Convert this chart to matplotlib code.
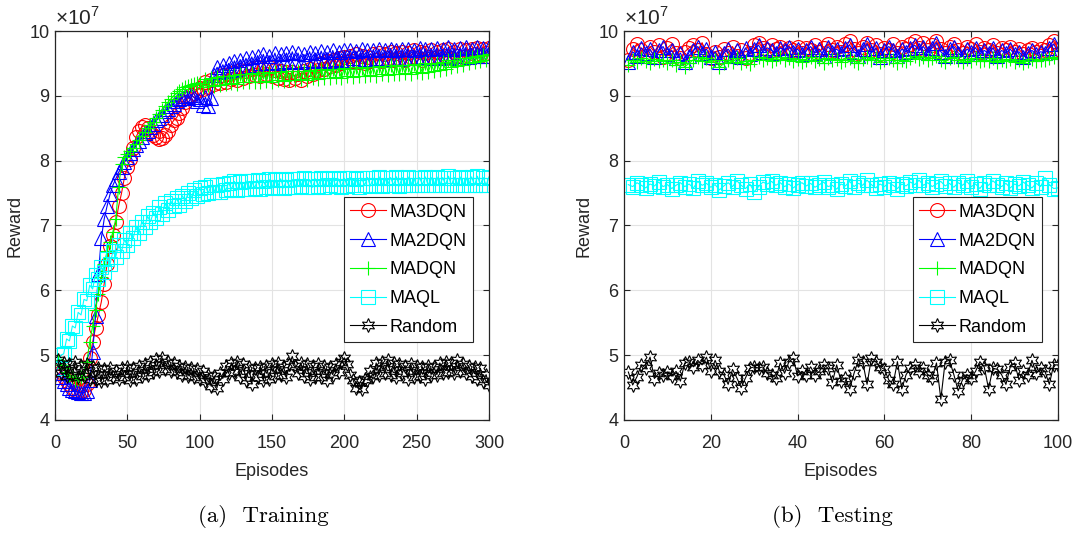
import numpy as np
import matplotlib
matplotlib.use("Agg")
import matplotlib.pyplot as plt

plt.rcParams['font.family'] = ['Liberation Sans', 'DejaVu Sans']
plt.rcParams['mathtext.fontset'] = 'custom'
plt.rcParams['mathtext.rm'] = 'Liberation Sans'

# ---- data (reward in units of 1e7) ----
labels = ['MA3DQN', 'MA2DQN', 'MADQN', 'MAQL', 'Random']

ep_train = np.arange(2, 301, 2)
ep_test = np.arange(1, 101)

train_ma3dqn = [
    4.80, 4.74, 4.66, 4.60, 4.55, 4.50, 4.47, 4.45, 4.44, 4.46,
    4.55, 4.95, 5.20, 5.42, 5.62, 5.82, 6.10, 6.40, 6.68, 6.85,
    7.05, 7.30, 7.50, 7.74, 7.90, 8.02, 8.20, 8.36, 8.46, 8.52,
    8.55, 8.50, 8.44, 8.40, 8.36, 8.34, 8.35, 8.40, 8.46, 8.55,
    8.62, 8.66, 8.74, 8.82, 8.90, 8.96, 9.02, 9.05, 9.08, 9.12,
    9.10, 9.22, 9.14, 9.25, 9.18, 9.28, 9.20, 9.32, 9.22, 9.34,
    9.26, 9.36, 9.24, 9.40, 9.28, 9.38, 9.30, 9.42, 9.32, 9.44,
    9.30, 9.42, 9.34, 9.44, 9.30, 9.40, 9.28, 9.38, 9.26, 9.36,
    9.24, 9.36, 9.28, 9.34, 9.25, 9.38, 9.30, 9.42, 9.34, 9.46,
    9.40, 9.50, 9.42, 9.54, 9.46, 9.56, 9.48, 9.58, 9.50, 9.60,
    9.52, 9.62, 9.54, 9.64, 9.52, 9.62, 9.50, 9.60, 9.54, 9.64,
    9.56, 9.66, 9.54, 9.64, 9.58, 9.68, 9.56, 9.66, 9.58, 9.68,
    9.56, 9.66, 9.60, 9.70, 9.58, 9.68, 9.56, 9.66, 9.60, 9.70,
    9.58, 9.68, 9.60, 9.70, 9.62, 9.72, 9.58, 9.68, 9.62, 9.72,
    9.60, 9.70, 9.62, 9.72, 9.64, 9.74, 9.62, 9.72, 9.66, 9.74,
]
train_ma2dqn = [
    4.72, 4.66, 4.60, 4.55, 4.50, 4.47, 4.45, 4.43, 4.42, 4.42,
    4.45, 4.62, 5.05, 5.60, 6.25, 6.80, 7.10, 7.30, 7.48, 7.62,
    7.72, 7.82, 7.90, 7.98, 8.05, 8.12, 8.18, 8.24, 8.30, 8.36,
    8.42, 8.46, 8.52, 8.56, 8.62, 8.66, 8.70, 8.76, 8.80, 8.85,
    8.88, 8.92, 8.95, 8.97, 9.00, 8.96, 9.02, 8.98, 8.92, 8.95,
    8.86, 8.98, 8.84, 8.96, 9.32, 9.44, 9.36, 9.48, 9.38, 9.50,
    9.40, 9.54, 9.42, 9.56, 9.44, 9.58, 9.46, 9.60, 9.48, 9.62,
    9.50, 9.64, 9.50, 9.62, 9.52, 9.66, 9.50, 9.64, 9.54, 9.66,
    9.52, 9.68, 9.54, 9.66, 9.52, 9.64, 9.56, 9.68, 9.54, 9.66,
    9.55, 9.69, 9.56, 9.67, 9.54, 9.70, 9.57, 9.68, 9.55, 9.70,
    9.56, 9.71, 9.58, 9.69, 9.56, 9.72, 9.57, 9.70, 9.56, 9.71,
    9.58, 9.72, 9.57, 9.70, 9.59, 9.73, 9.58, 9.71, 9.57, 9.72,
    9.59, 9.73, 9.58, 9.71, 9.60, 9.74, 9.59, 9.72, 9.58, 9.73,
    9.60, 9.74, 9.59, 9.72, 9.61, 9.75, 9.60, 9.73, 9.59, 9.74,
    9.61, 9.75, 9.60, 9.73, 9.62, 9.76, 9.61, 9.74, 9.62, 9.75,
]
train_madqn = [
    4.92, 4.85, 4.80, 4.74, 4.70, 4.66, 4.62, 4.64, 4.66, 4.72,
    4.90, 5.20, 5.45, 5.70, 5.95, 6.20, 6.40, 6.60, 6.75, 6.90,
    7.10, 7.60, 7.95, 8.05, 8.10, 8.15, 8.20, 8.26, 8.32, 8.38,
    8.44, 8.50, 8.55, 8.60, 8.66, 8.72, 8.78, 8.84, 8.90, 8.95,
    9.00, 9.04, 9.08, 9.10, 9.13, 9.15, 9.16, 9.18, 9.20, 9.20,
    9.14, 9.26, 9.16, 9.28, 9.15, 9.29, 9.17, 9.30, 9.18, 9.31,
    9.20, 9.32, 9.19, 9.33, 9.21, 9.34, 9.22, 9.35, 9.21, 9.34,
    9.22, 9.36, 9.23, 9.35, 9.22, 9.37, 9.24, 9.36, 9.23, 9.38,
    9.25, 9.38, 9.24, 9.39, 9.26, 9.38, 9.25, 9.40, 9.27, 9.39,
    9.26, 9.41, 9.28, 9.40, 9.27, 9.42, 9.29, 9.41, 9.28, 9.43,
    9.30, 9.42, 9.29, 9.44, 9.31, 9.43, 9.30, 9.45, 9.32, 9.44,
    9.31, 9.46, 9.33, 9.45, 9.32, 9.47, 9.34, 9.46, 9.33, 9.48,
    9.35, 9.47, 9.34, 9.49, 9.36, 9.48, 9.35, 9.50, 9.37, 9.49,
    9.38, 9.51, 9.40, 9.52, 9.42, 9.55, 9.44, 9.56, 9.46, 9.58,
    9.48, 9.59, 9.50, 9.60, 9.52, 9.62, 9.53, 9.63, 9.55, 9.64,
]
train_maql = [
    4.80, 5.00, 5.02, 5.25, 5.22, 5.45, 5.42, 5.66, 5.62, 5.86,
    5.84, 6.08, 6.02, 6.24, 6.18, 6.36, 6.28, 6.48, 6.40, 6.60,
    6.52, 6.70, 6.60, 6.78, 6.70, 6.88, 6.80, 6.98, 6.88, 7.06,
    6.98, 7.14, 7.06, 7.20, 7.12, 7.28, 7.18, 7.34, 7.24, 7.38,
    7.30, 7.42, 7.32, 7.46, 7.38, 7.50, 7.42, 7.54, 7.46, 7.58,
    7.48, 7.60, 7.50, 7.62, 7.52, 7.63, 7.52, 7.64, 7.54, 7.66,
    7.56, 7.68, 7.55, 7.67, 7.57, 7.69, 7.56, 7.68, 7.58, 7.70,
    7.57, 7.69, 7.59, 7.71, 7.58, 7.70, 7.60, 7.72, 7.58, 7.70,
    7.60, 7.71, 7.59, 7.72, 7.61, 7.73, 7.60, 7.71, 7.59, 7.72,
    7.61, 7.73, 7.60, 7.72, 7.62, 7.74, 7.61, 7.72, 7.60, 7.73,
    7.61, 7.74, 7.62, 7.72, 7.60, 7.73, 7.62, 7.74, 7.61, 7.73,
    7.62, 7.75, 7.61, 7.73, 7.63, 7.74, 7.62, 7.75, 7.61, 7.74,
    7.62, 7.75, 7.63, 7.73, 7.62, 7.74, 7.63, 7.75, 7.62, 7.74,
    7.63, 7.75, 7.62, 7.74, 7.63, 7.76, 7.62, 7.74, 7.63, 7.75,
    7.62, 7.74, 7.63, 7.75, 7.62, 7.76, 7.63, 7.74, 7.62, 7.75,
]
train_random = [
    4.92, 4.72, 4.88, 4.68, 4.86, 4.70, 4.90, 4.66, 4.84, 4.68,
    4.86, 4.64, 4.82, 4.62, 4.80, 4.60, 4.78, 4.62, 4.80, 4.66,
    4.76, 4.64, 4.80, 4.66, 4.82, 4.62, 4.80, 4.64, 4.84, 4.68,
    4.86, 4.70, 4.90, 4.74, 4.94, 4.76, 4.96, 4.78, 4.90, 4.76,
    4.88, 4.74, 4.84, 4.70, 4.82, 4.68, 4.80, 4.66, 4.78, 4.64,
    4.76, 4.60, 4.70, 4.52, 4.68, 4.50, 4.72, 4.64, 4.84, 4.72,
    4.88, 4.74, 4.90, 4.66, 4.86, 4.62, 4.82, 4.56, 4.80, 4.66,
    4.82, 4.62, 4.84, 4.64, 4.86, 4.68, 4.88, 4.70, 4.82, 4.66,
    4.86, 4.98, 4.84, 4.72, 4.88, 4.68, 4.86, 4.64, 4.84, 4.66,
    4.86, 4.66, 4.84, 4.62, 4.82, 4.70, 4.86, 4.74, 4.90, 4.96,
    4.86, 4.70, 4.62, 4.50, 4.58, 4.48, 4.64, 4.62, 4.76, 4.68,
    4.88, 4.70, 4.90, 4.72, 4.92, 4.70, 4.88, 4.66, 4.86, 4.72,
    4.84, 4.64, 4.86, 4.66, 4.84, 4.68, 4.82, 4.64, 4.84, 4.70,
    4.82, 4.70, 4.88, 4.72, 4.90, 4.74, 4.88, 4.72, 4.92, 4.76,
    4.86, 4.72, 4.84, 4.68, 4.82, 4.64, 4.80, 4.60, 4.70, 4.54,
]

test_ma3dqn = [
    9.55, 9.72, 9.80, 9.70, 9.62, 9.76, 9.68, 9.78, 9.60, 9.74,
    9.80, 9.66, 9.58, 9.68, 9.74, 9.79, 9.70, 9.82, 9.64, 9.58,
    9.68, 9.60, 9.72, 9.66, 9.76, 9.62, 9.70, 9.58, 9.66, 9.78,
    9.82, 9.74, 9.70, 9.78, 9.72, 9.76, 9.68, 9.74, 9.70, 9.76,
    9.66, 9.74, 9.70, 9.78, 9.68, 9.74, 9.80, 9.70, 9.76, 9.68,
    9.80, 9.84, 9.72, 9.66, 9.76, 9.82, 9.70, 9.78, 9.64, 9.74,
    9.70, 9.80, 9.66, 9.76, 9.72, 9.80, 9.84, 9.74, 9.82, 9.70,
    9.78, 9.84, 9.72, 9.66, 9.76, 9.80, 9.70, 9.66, 9.76, 9.72,
    9.80, 9.68, 9.74, 9.70, 9.78, 9.66, 9.74, 9.70, 9.76, 9.68,
    9.72, 9.64, 9.70, 9.74, 9.68, 9.72, 9.70, 9.78, 9.84, 9.72,
]
test_ma2dqn = [
    9.52, 9.68, 9.62, 9.74, 9.66, 9.72, 9.60, 9.70, 9.76, 9.64,
    9.70, 9.58, 9.66, 9.52, 9.62, 9.70, 9.76, 9.66, 9.72, 9.60,
    9.68, 9.52, 9.66, 9.72, 9.62, 9.70, 9.60, 9.74, 9.64, 9.72,
    9.78, 9.68, 9.74, 9.70, 9.66, 9.74, 9.70, 9.76, 9.68, 9.72,
    9.64, 9.70, 9.76, 9.66, 9.72, 9.62, 9.76, 9.68, 9.72, 9.66,
    9.74, 9.78, 9.68, 9.62, 9.72, 9.80, 9.66, 9.74, 9.60, 9.70,
    9.76, 9.70, 9.62, 9.72, 9.68, 9.74, 9.78, 9.70, 9.76, 9.66,
    9.74, 9.82, 9.68, 9.62, 9.72, 9.76, 9.66, 9.62, 9.72, 9.68,
    9.74, 9.64, 9.70, 9.66, 9.74, 9.62, 9.70, 9.66, 9.72, 9.64,
    9.68, 9.60, 9.66, 9.70, 9.64, 9.68, 9.66, 9.74, 9.80, 9.68,
]
test_madqn = [
    9.48, 9.55, 9.52, 9.58, 9.54, 9.50, 9.57, 9.53, 9.56, 9.50,
    9.55, 9.48, 9.52, 9.45, 9.50, 9.56, 9.60, 9.54, 9.58, 9.52,
    9.56, 9.44, 9.50, 9.55, 9.52, 9.58, 9.50, 9.54, 9.49, 9.56,
    9.60, 9.56, 9.58, 9.54, 9.57, 9.60, 9.55, 9.58, 9.53, 9.57,
    9.52, 9.56, 9.60, 9.54, 9.57, 9.51, 9.58, 9.55, 9.57, 9.52,
    9.56, 9.59, 9.54, 9.50, 9.57, 9.60, 9.55, 9.58, 9.52, 9.56,
    9.59, 9.55, 9.50, 9.56, 9.53, 9.58, 9.61, 9.57, 9.60, 9.55,
    9.58, 9.62, 9.56, 9.52, 9.58, 9.60, 9.55, 9.52, 9.57, 9.54,
    9.58, 9.53, 9.56, 9.54, 9.58, 9.52, 9.56, 9.54, 9.57, 9.52,
    9.55, 9.50, 9.54, 9.57, 9.53, 9.56, 9.55, 9.58, 9.60, 9.57,
]
test_maql = [
    7.63, 7.60, 7.66, 7.62, 7.58, 7.64, 7.61, 7.67, 7.60, 7.63,
    7.57, 7.62, 7.66, 7.60, 7.64, 7.58, 7.68, 7.62, 7.65, 7.59,
    7.63, 7.55, 7.61, 7.66, 7.60, 7.69, 7.62, 7.57, 7.64, 7.52,
    7.60, 7.67, 7.64, 7.68, 7.62, 7.66, 7.60, 7.64, 7.58, 7.63,
    7.66, 7.61, 7.65, 7.59, 7.63, 7.67, 7.60, 7.62, 7.56, 7.64,
    7.61, 7.68, 7.60, 7.65, 7.62, 7.70, 7.63, 7.58, 7.64, 7.60,
    7.66, 7.62, 7.57, 7.64, 7.61, 7.67, 7.63, 7.70, 7.62, 7.66,
    7.60, 7.64, 7.68, 7.61, 7.65, 7.59, 7.66, 7.62, 7.68, 7.60,
    7.64, 7.57, 7.66, 7.62, 7.69, 7.63, 7.60, 7.65, 7.58, 7.64,
    7.61, 7.67, 7.62, 7.58, 7.65, 7.60, 7.74, 7.63, 7.57, 7.58,
]
test_random = [
    4.74, 4.54, 4.67, 4.85, 4.80, 4.97, 4.64, 4.72, 4.70, 4.74,
    4.68, 4.75, 4.60, 4.88, 4.90, 4.82, 4.92, 4.85, 4.97, 4.75,
    4.92, 4.75, 4.70, 4.55, 4.78, 4.65, 4.50, 4.65, 4.80, 4.82,
    4.80, 4.82, 4.72, 4.70, 4.65, 4.88, 4.72, 4.90, 4.95, 4.68,
    4.75, 4.70, 4.82, 4.70, 4.75, 4.85, 4.80, 4.58, 4.85, 4.60,
    4.65, 4.48, 4.72, 4.92, 4.90, 4.55, 4.95, 4.90, 4.82, 4.78,
    4.62, 4.55, 4.90, 4.48, 4.70, 4.80, 4.85, 4.75, 4.80, 4.70,
    4.65, 4.88, 4.32, 4.90, 4.92, 4.70, 4.45, 4.62, 4.70, 4.65,
    4.75, 4.90, 4.82, 4.48, 4.80, 4.78, 4.70, 4.55, 4.82, 4.88,
    4.62, 4.75, 4.70, 4.92, 4.72, 4.80, 4.75, 4.55, 4.85, 4.85,
]

colors = ['#ff0000', '#0000ff', '#00ff00', '#00ffff', '#000000']
markers = ['o', '^', '+', 's', (6, 1, 0)]
ink = '#262626'


def draw_panel(ax, x, series, xmax, xticks):
    for y, lab, c, m in zip(series, labels, colors, markers):
        ax.plot(x, y, color=c, marker=m, markersize=10, markerfacecolor='none',
                markeredgecolor=c, markeredgewidth=0.8, linewidth=0.8, label=lab)
    ax.set_xlim(0, xmax)
    ax.set_ylim(4, 10)
    ax.set_xticks(xticks)
    ax.set_yticks([4, 5, 6, 7, 8, 9, 10])
    ax.grid(True, color='#e3e3e3', linewidth=0.8)
    ax.set_axisbelow(True)
    for s in ax.spines.values():
        s.set_color(ink)
        s.set_linewidth(0.9)
    ax.tick_params(direction='in', length=4, width=0.8, top=True, right=True,
                   labelsize=13, colors=ink)
    ax.tick_params(axis='x', pad=11)
    ax.tick_params(axis='y', pad=4)
    ax.set_xlabel('Episodes', fontsize=13, labelpad=8, color=ink)
    ax.set_ylabel('Reward', fontsize=13, labelpad=4, color=ink)
    ax.text(0.0, 1.006, r'$\times10^{7}$', transform=ax.transAxes, fontsize=15,
            ha='left', va='bottom', color=ink)
    leg = ax.legend(loc='upper right', bbox_to_anchor=(0.962, 0.572), fontsize=13,
                    numpoints=1, handlelength=2.0, handletextpad=0.15,
                    labelspacing=0.65, borderpad=0.35, borderaxespad=0.0,
                    fancybox=False, framealpha=1.0, edgecolor=ink)
    leg.get_frame().set_linewidth(0.8)


fig = plt.figure(figsize=(10.73, 5.33), dpi=100)
W, H = 1073.0, 533.0
ax1 = fig.add_axes([55 / W, (H - 420) / H, 434 / W, 389 / H])
ax2 = fig.add_axes([624 / W, (H - 420) / H, 434 / W, 389 / H])

draw_panel(ax1, ep_train,
           [train_ma3dqn, train_ma2dqn, train_madqn, train_maql, train_random],
           300, [0, 50, 100, 150, 200, 250, 300])
draw_panel(ax2, ep_test,
           [test_ma3dqn, test_ma2dqn, test_madqn, test_maql, test_random],
           100, [0, 20, 40, 60, 80, 100])

fig.text(263 / W, 1 - 516 / H, '(a)  Training', fontname='cmr10', fontsize=16.5,
         ha='center', va='center')
fig.text(832 / W, 1 - 516 / H, '(b)  Testing', fontname='cmr10', fontsize=16.5,
         ha='center', va='center')

fig.savefig('out.png', dpi=100)
